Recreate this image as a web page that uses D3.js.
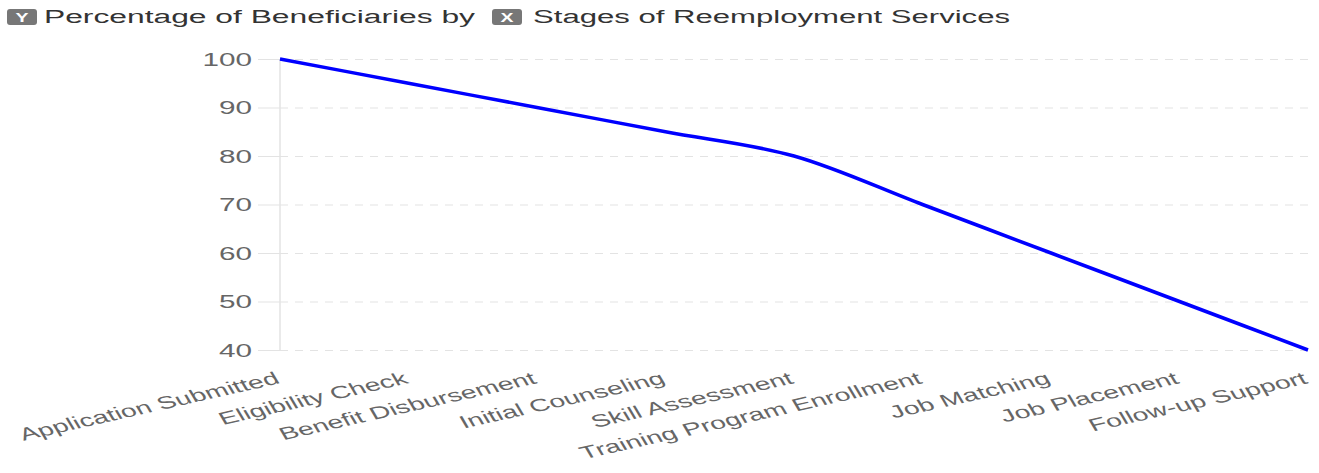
<!DOCTYPE html>
<html>
<head>
<meta charset="utf-8">
<script src="https://d3js.org/d3.v7.min.js"></script>
<style>
    body {
        margin: 0;
        background-color: #ffffff;
        font-family: "Liberation Sans", Arial, sans-serif;
    }

    .grid line {
        stroke: #e3e3e3;
        stroke-dasharray: 8, 7;
    }

    .label {
        fill: #666666;
        font-size: 18px;
    }
</style>
</head>
<body>
<svg width="1319" height="473"></svg>
<script>
    // stages along the x axis and share of beneficiaries at each
    var stages = ["Application Submitted", "Eligibility Check", "Benefit Disbursement", "Initial Counseling",
        "Skill Assessment", "Training Program Enrollment", "Job Matching", "Job Placement", "Follow-up Support"];
    var percentages = [100, 95, 90, 85, 80, 70, 60, 50, 40];
    var yTicks = [40, 50, 60, 70, 80, 90, 100];

    // the original text is drawn stretched sideways
    var stretch = 1.65;

    var svg = d3.select("svg"),
        margin = {top: 59, right: 11, bottom: 123, left: 280},
        width = +svg.attr("width") - margin.left - margin.right,
        height = +svg.attr("height") - margin.top - margin.bottom;

    // title row with the two badges
    function badge(x, letter) {
        svg.append("rect")
            .attr("x", x).attr("y", 9)
            .attr("width", 30).attr("height", 16)
            .attr("rx", 3)
            .attr("fill", "#777777");
        svg.append("text")
            .attr("transform", "translate(" + (x + 15) + ",22) scale(1.5,1)")
            .attr("text-anchor", "middle")
            .attr("fill", "#fff")
            .attr("font-size", 13)
            .attr("font-weight", "bold")
            .text(letter);
    }
    badge(7, "Y");
    svg.append("text").attr("x", 44).attr("y", 23)
        .attr("font-size", 18).attr("fill", "#333")
        .attr("textLength", 431).attr("lengthAdjust", "spacingAndGlyphs")
        .text("Percentage of Beneficiaries by");
    badge(492, "X");
    svg.append("text").attr("x", 533).attr("y", 23)
        .attr("font-size", 18).attr("fill", "#333")
        .attr("textLength", 477).attr("lengthAdjust", "spacingAndGlyphs")
        .text("Stages of Reemployment Services");

    var x = d3.scalePoint().domain(stages).range([0, width]);
    var y = d3.scaleLinear().domain([40, 100]).range([height, 0]);

    var g = svg.append("g")
        .attr("transform", "translate(" + margin.left + "," + margin.top + ")");

    // dashed grid lines
    g.append("g")
        .attr("class", "grid")
        .call(d3.axisLeft(y).tickValues(yTicks).tickSize(-width).tickFormat(""))
        .call(function (s) { s.select(".domain").remove(); });

    g.append("g")
        .attr("class", "grid")
        .attr("transform", "translate(-22,0)")
        .call(d3.axisRight(y).tickValues(yTicks).tickSize(22).tickFormat(""))
        .call(function (s) { s.select(".domain").remove(); })
        .selectAll("line").style("stroke-dasharray", "none");

    // y labels
    g.selectAll(".ylabel")
        .data(yTicks)
        .enter().append("text")
        .attr("class", "label")
        .attr("text-anchor", "end")
        .attr("transform", function (d) {
            return "translate(-28," + (y(d) + 6.5) + ") scale(" + stretch + ",1)";
        })
        .text(function (d) { return d; });

    g.append("line")
        .attr("x1", 0).attr("x2", 0)
        .attr("y1", 0).attr("y2", height)
        .attr("stroke", "#e3e3e3").attr("stroke-width", 1.5);

    // x labels
    g.selectAll(".xlabel")
        .data(stages)
        .enter().append("text")
        .attr("class", "label")
        .style("font-size", "17.5px")
        .attr("text-anchor", "end")
        .attr("transform", function (d) {
            return "translate(" + (x(d) + 1) + "," + (height + 33) + ") scale(1.62,1) rotate(-20)";
        })
        .text(function (d) { return d; });

    // the line
    var line = d3.line()
        .x(function (d, i) { return x(stages[i]); })
        .y(function (d) { return y(d); })
        .curve(d3.curveMonotoneX);

    g.append("path")
        .datum(percentages)
        .attr("fill", "none")
        .attr("stroke", "#0000ff")
        .attr("stroke-width", 3.5)
        .attr("d", line);
</script>
</body>
</html>
